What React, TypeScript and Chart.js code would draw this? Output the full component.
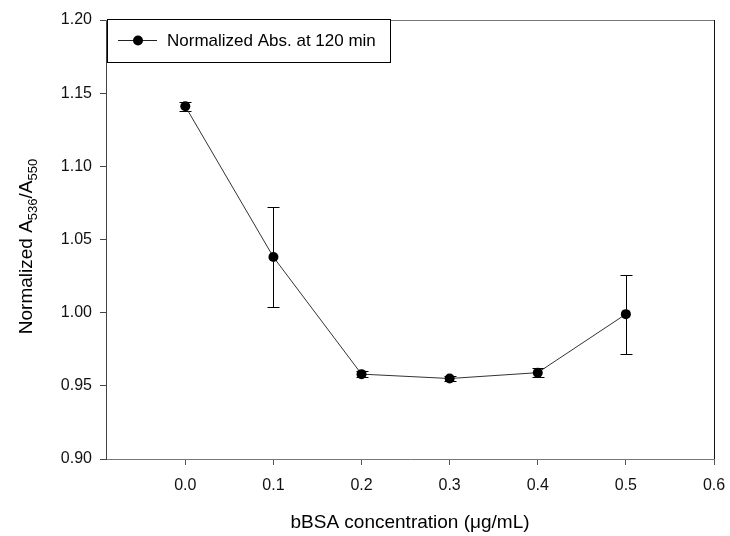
import React, { useEffect, useRef } from "react";
import { Chart, registerables } from "chart.js";

Chart.register(...registerables);

// ---- data ----
const concentrations = [0, 0.1, 0.2, 0.3, 0.4, 0.5];
const normalizedAbs = [1.141, 1.038, 0.958, 0.955, 0.959, 0.999];
const errorValues = [0.003, 0.034, 0.002, 0.002, 0.003, 0.027];
const xTickValues = [0, 0.1, 0.2, 0.3, 0.4, 0.5, 0.6];
const yTickValues = [0.9, 0.95, 1.0, 1.05, 1.1, 1.15, 1.2];
const seriesLabel = "Normalized Abs. at 120 min";
const xTitle = "bBSA concentration (μg/mL)";
const yTitleParts = [
  { text: "Normalized A", sub: false },
  { text: "536", sub: true },
  { text: "/A", sub: false },
  { text: "550", sub: true },
];

const FONT = '"Liberation Sans", Arial, Helvetica, sans-serif';

const decorPlugin = {
  id: "decor",
  beforeDatasetsDraw(chart: any) {
    const ctx = chart.ctx;
    const xs = chart.scales.x;
    const ys = chart.scales.y;
    ctx.save();
    ctx.strokeStyle = "#000";
    ctx.lineWidth = 1;
    concentrations.forEach((c, i) => {
      const px = Math.round(xs.getPixelForValue(c)) + 0.5;
      const top = Math.round(ys.getPixelForValue(normalizedAbs[i] + errorValues[i])) + 0.5;
      const bot = Math.round(ys.getPixelForValue(normalizedAbs[i] - errorValues[i])) + 0.5;
      ctx.beginPath();
      ctx.moveTo(px, top);
      ctx.lineTo(px, bot);
      ctx.moveTo(px - 6, top);
      ctx.lineTo(px + 6, top);
      ctx.moveTo(px - 6, bot);
      ctx.lineTo(px + 6, bot);
      ctx.stroke();
    });
    ctx.restore();
  },
  afterDraw(chart: any) {
    const ctx = chart.ctx;
    const a = chart.chartArea;
    ctx.save();
    // frame: top and right
    ctx.lineWidth = 1;
    ctx.strokeStyle = "#777";
    ctx.beginPath();
    ctx.moveTo(a.left, Math.round(a.top) + 0.5);
    ctx.lineTo(a.right, Math.round(a.top) + 0.5);
    ctx.stroke();
    ctx.strokeStyle = "#111";
    ctx.beginPath();
    ctx.moveTo(Math.round(a.right) + 0.5, a.top);
    ctx.lineTo(Math.round(a.right) + 0.5, a.bottom);
    ctx.stroke();

    // legend
    const lx = a.left + 1;
    const ly = a.top - 1;
    ctx.fillStyle = "#fff";
    ctx.fillRect(lx, ly, 283, 43);
    ctx.strokeStyle = "#000";
    ctx.strokeRect(lx + 0.5, ly + 0.5, 283, 43);
    const my = ly + 21.5;
    ctx.strokeStyle = "#222";
    ctx.beginPath();
    ctx.moveTo(lx + 11, my);
    ctx.lineTo(lx + 50, my);
    ctx.stroke();
    ctx.fillStyle = "#000";
    ctx.beginPath();
    ctx.arc(lx + 31, my, 5, 0, Math.PI * 2);
    ctx.fill();
    ctx.font = `17px ${FONT}`;
    ctx.textBaseline = "alphabetic";
    ctx.textAlign = "left";
    ctx.fillText(chart.data.datasets[0].label, lx + 60, ly + 27);

    // x title
    ctx.font = `19px ${FONT}`;
    ctx.textAlign = "center";
    ctx.fillStyle = "#000";
    ctx.fillText(xTitle, (a.left + a.right) / 2, 528);

    // y title with subscripts
    const mainFont = `19px ${FONT}`;
    const subFont = `13px ${FONT}`;
    let total = 0;
    yTitleParts.forEach((p) => {
      ctx.font = p.sub ? subFont : mainFont;
      total += ctx.measureText(p.text).width;
    });
    ctx.translate(32, (a.top + a.bottom) / 2 + 7);
    ctx.rotate(-Math.PI / 2);
    ctx.textAlign = "left";
    let x = -total / 2;
    yTitleParts.forEach((p) => {
      ctx.font = p.sub ? subFont : mainFont;
      ctx.fillText(p.text, x, p.sub ? 5 : 0);
      x += ctx.measureText(p.text).width;
    });
    ctx.restore();
  },
};

export default function App() {
  const ref = useRef<HTMLCanvasElement | null>(null);
  useEffect(() => {
    document.body.style.margin = "0";
    const canvas = ref.current;
    if (!canvas) return;
    const chart = new Chart(canvas, {
      type: "line",
      data: {
        datasets: [
          {
            label: seriesLabel,
            data: concentrations.map((c, i) => ({ x: c, y: normalizedAbs[i] })),
            borderColor: "#333",
            borderWidth: 1,
            pointRadius: 5,
            pointHoverRadius: 5,
            pointBackgroundColor: "#000",
            pointBorderColor: "#000",
            pointBorderWidth: 0,
            tension: 0,
            fill: false,
          },
        ],
      },
      options: {
        animation: false,
        responsive: false,
        maintainAspectRatio: false,
        devicePixelRatio: 1,
        layout: { padding: { top: 20, right: 16, left: 0, bottom: 0 } },
        plugins: {
          legend: { display: false },
          tooltip: { enabled: false },
          title: { display: false },
        },
        scales: {
          x: {
            type: "linear",
            min: -0.09,
            max: 0.6,
            afterFit: (s: any) => {
              s.height = 77;
              s.paddingLeft = 0;
              s.paddingRight = 0;
            },
            afterBuildTicks: (s: any) => {
              s.ticks = xTickValues.map((v) => ({ value: v }));
            },
            border: { display: true, color: "#777", width: 1 },
            grid: {
              display: true,
              drawOnChartArea: false,
              drawTicks: true,
              tickLength: 6,
              tickColor: "#555",
            },
            ticks: {
              color: "#111",
              padding: 11,
              font: { family: FONT, size: 16 },
              maxRotation: 0,
              autoSkip: false,
              callback: (v: any) => Number(v).toFixed(1),
            },
          },
          y: {
            type: "linear",
            min: 0.9,
            max: 1.2,
            afterFit: (s: any) => {
              s.width = 106;
              s.paddingTop = 0;
              s.paddingBottom = 0;
            },
            afterBuildTicks: (s: any) => {
              s.ticks = yTickValues.map((v) => ({ value: v }));
            },
            border: { display: true, color: "#444", width: 1 },
            grid: {
              display: true,
              drawOnChartArea: false,
              drawTicks: true,
              tickLength: 6,
              tickColor: "#444",
            },
            ticks: {
              color: "#111",
              padding: 8,
              font: { family: FONT, size: 16 },
              autoSkip: false,
              callback: (v: any) => Number(v).toFixed(2),
            },
          },
        },
      },
      plugins: [decorPlugin],
    });
    return () => chart.destroy();
  }, []);
  return (
    <canvas
      ref={ref}
      width={730}
      height={536}
      style={{ display: "block", width: 730, height: 536 }}
    />
  );
}
